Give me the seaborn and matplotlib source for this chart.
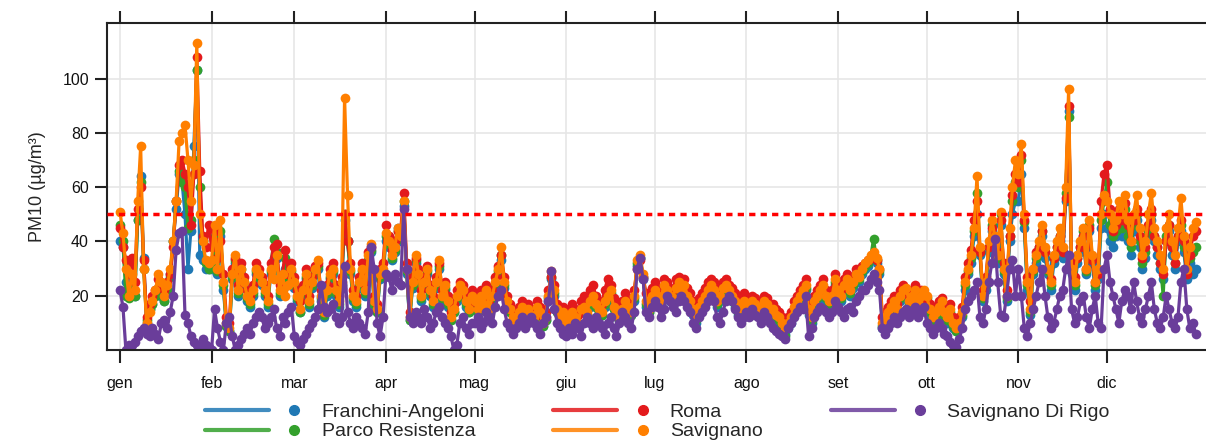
import numpy as np
import pandas as pd
import seaborn as sns
import matplotlib.pyplot as plt
from matplotlib.lines import Line2D
from matplotlib.legend_handler import HandlerBase

# PM10 giornaliero per stazione (gen-dic)
franchini = [
    40,38,25,22,25,20,48,64,34,10,15,17,20,22,20,18,22,28,40,52,65,62,50,30,44,75,103,35,33,30,30,
    30,40,28,42,22,9,7,26,32,20,28,24,18,16,20,28,26,24,20,16,28,34,34,20,26,30,24,28,
    23,18,14,20,26,16,23,28,30,18,12,20,26,28,20,16,23,48,40,28,18,16,23,28,20,32,36,16,14,26,28,
    40,38,33,36,45,40,53,28,11,23,32,26,18,23,28,20,16,23,30,18,22,16,11,14,18,22,20,16,14,18,
    16,14,18,16,20,14,18,23,28,33,23,16,14,11,9,13,15,11,14,12,11,15,13,9,11,18,26,20,14,11,13,
    9,11,13,11,9,14,15,13,16,18,16,14,13,16,18,20,15,13,11,14,16,15,13,18,31,34,26,16,14,18,
    20,18,16,22,20,18,17,21,23,20,22,18,16,13,10,14,16,18,20,22,20,16,18,21,22,20,18,16,13,14,16,
    15,14,16,15,13,14,16,15,12,13,11,10,8,6,8,10,14,16,18,20,22,13,10,16,18,20,22,18,16,18,24,
    20,18,22,24,20,23,26,25,28,30,31,33,34,32,28,8,10,12,14,16,13,18,20,21,16,18,20,16,18,20,
    18,13,10,12,14,16,12,10,13,8,7,9,12,22,28,32,42,50,35,18,22,36,44,38,32,46,28,18,40,50,55,
    55,65,45,22,13,28,32,36,42,34,28,22,32,36,40,34,55,88,28,22,32,36,42,28,44,32,22,26,45,50,
    45,40,38,42,45,42,48,40,35,44,48,38,30,34,42,48,40,35,30,26,40,44,35,30,40,44,36,26,32,28,30,
]
parco = [
    46,40,20,19,24,20,48,62,30,11,15,17,20,23,21,18,22,27,40,55,66,62,60,45,48,70,103,60,40,32,30,
    31,42,29,44,24,9,7,27,33,21,30,25,19,17,21,29,27,25,21,17,29,41,36,21,27,34,25,29,
    24,19,14,21,27,17,24,29,31,19,13,21,27,29,21,17,24,50,40,29,19,17,24,29,21,33,37,17,14,27,29,
    42,39,34,37,44,41,55,29,11,24,33,27,19,24,29,21,17,24,31,19,23,17,11,14,19,23,21,17,14,19,
    17,14,19,16,21,14,19,24,29,35,24,17,14,11,9,13,15,11,14,12,11,15,13,9,11,19,27,21,14,11,13,
    9,11,13,11,9,14,15,13,17,19,16,14,13,17,19,21,15,13,11,14,17,15,13,19,32,34,27,17,14,19,
    21,19,17,23,21,19,18,22,24,21,23,19,17,14,11,15,17,19,21,23,21,17,19,22,23,21,19,17,14,15,17,
    16,15,17,16,14,15,17,16,13,14,12,11,9,5,9,11,15,17,19,21,23,14,11,17,19,21,23,19,17,19,25,
    21,19,23,25,21,24,27,26,29,31,32,34,41,33,29,9,11,13,15,17,14,19,21,22,17,19,21,17,19,21,
    19,14,11,13,15,17,13,11,14,9,7,9,13,24,29,34,44,58,36,19,24,38,46,40,34,50,29,19,42,55,62,
    60,70,47,24,14,29,34,38,44,36,29,24,34,38,42,36,58,86,29,24,34,38,44,29,46,34,24,28,48,55,
    62,46,42,44,48,45,52,42,38,46,50,40,32,36,44,50,42,38,32,20,42,46,38,32,42,46,38,28,34,36,38,
]
roma = [
    45,38,33,28,34,25,52,60,33,12,17,20,22,26,24,22,25,28,38,55,68,70,65,60,46,65,108,66,42,38,46,
    38,44,34,40,28,12,10,30,34,24,32,27,22,20,24,32,30,27,24,20,32,38,39,24,28,37,28,32,
    27,22,18,24,30,20,27,31,32,22,16,24,30,32,24,20,27,50,40,32,22,20,27,32,24,36,38,20,17,30,32,
    46,42,37,40,44,44,58,32,14,27,34,30,22,27,31,24,20,27,32,22,25,20,14,17,22,25,24,20,17,22,
    20,17,22,19,24,17,22,27,31,35,27,20,17,14,12,16,18,14,17,15,14,18,16,12,14,22,27,24,17,14,16,
    13,15,17,15,13,18,20,18,22,24,20,18,17,22,26,24,19,17,15,18,21,19,17,22,30,33,27,21,18,23,
    25,23,21,26,25,23,22,26,27,25,26,23,21,18,15,19,21,23,25,26,25,21,23,25,26,24,23,21,18,19,21,
    19,18,20,19,17,18,20,19,16,17,15,14,12,10,12,14,18,20,22,24,26,17,14,20,22,24,26,22,20,22,28,
    24,22,26,28,24,27,30,29,31,32,33,34,35,33,30,12,14,16,18,20,17,22,24,22,20,22,24,20,22,20,
    18,17,14,16,18,19,16,14,17,12,10,12,16,27,32,37,48,55,36,22,27,38,45,40,36,48,32,22,42,57,65,
    62,72,48,27,18,30,36,38,44,36,30,26,34,38,42,36,56,90,32,27,34,38,42,30,45,33,25,28,55,65,
    68,52,44,46,52,48,54,46,40,48,52,42,34,38,46,52,42,38,32,28,40,46,38,32,42,48,40,28,35,42,44,
]
savignano = [
    51,43,30,20,28,22,55,75,30,10,14,18,22,28,25,20,24,30,40,55,77,80,83,70,55,68,113,50,40,33,32,
    33,46,30,48,25,10,8,28,35,22,30,25,20,18,22,30,28,25,22,18,30,26,35,22,28,20,24,30,
    25,20,15,22,28,18,25,30,33,20,14,22,28,30,22,18,25,93,57,30,20,18,25,30,22,35,39,18,15,28,30,
    43,40,35,38,45,42,55,30,12,25,35,28,20,25,30,22,18,25,33,20,24,18,12,15,20,24,22,18,15,20,
    18,15,20,17,22,15,20,25,30,38,25,18,15,12,10,14,16,12,15,13,12,16,14,10,12,20,29,22,15,12,14,
    10,12,14,12,10,15,16,14,18,20,17,15,14,18,20,22,16,14,12,15,18,16,14,20,33,35,28,18,15,20,
    22,20,18,24,22,20,19,23,25,22,24,20,18,15,12,16,18,20,22,24,22,18,20,23,24,22,20,18,15,16,18,
    17,16,18,17,15,16,18,17,14,15,13,12,10,8,10,12,16,18,20,22,24,15,12,18,20,22,24,20,18,20,26,
    22,20,24,26,22,25,28,27,30,32,33,35,36,34,30,10,12,14,16,18,15,20,22,23,18,20,22,18,20,22,
    20,15,12,14,16,18,14,12,15,10,8,10,14,25,30,35,45,64,38,20,25,40,48,42,35,51,30,20,45,60,70,
    65,76,50,25,15,30,35,40,46,38,30,25,35,40,45,38,60,96,30,25,35,40,45,30,48,35,25,30,50,57,
    55,50,45,48,55,50,57,48,40,50,57,45,35,40,50,58,45,40,35,30,45,50,40,35,45,56,42,30,38,45,47,
]
di_rigo = [
    22,16,0,2,2,3,5,7,8,6,5,8,6,4,10,11,8,14,20,37,43,44,13,10,5,3,2,0,4,2,1,
    0,15,8,3,0,10,12,5,0,2,4,6,8,6,10,12,14,12,8,10,12,15,8,5,12,10,14,16,
    5,3,2,4,6,8,10,12,15,24,16,14,15,17,12,10,12,31,14,10,8,12,10,8,6,14,38,30,10,5,12,
    28,27,22,28,25,24,52,30,12,10,14,12,10,15,12,8,10,14,16,12,10,8,5,0,2,10,12,8,6,10,
    10,12,8,10,14,12,10,16,20,22,15,10,8,6,8,10,12,8,10,12,10,8,6,10,12,18,29,15,10,8,6,
    5,8,6,10,8,5,10,12,10,8,12,10,8,6,10,12,8,5,10,14,12,10,8,14,30,34,26,14,12,16,
    18,16,12,15,20,18,16,14,18,20,18,16,14,10,8,12,14,16,18,20,18,12,10,14,18,20,18,15,12,10,12,
    14,12,15,13,12,10,14,12,10,8,7,6,5,4,8,10,12,14,16,15,20,5,8,12,14,16,15,14,12,14,18,
    16,14,12,15,16,14,18,20,22,22,24,26,28,25,22,8,6,8,10,12,10,12,14,15,12,14,16,12,14,16,
    10,8,6,8,10,8,6,5,3,2,1,4,8,15,18,20,22,25,12,10,15,25,32,41,25,13,12,20,30,33,20,
    30,20,8,5,10,15,20,25,30,20,12,8,10,15,20,22,30,35,15,10,12,18,20,12,8,15,20,10,8,30,
    35,25,20,15,10,18,22,20,15,25,18,12,10,15,20,25,15,10,8,12,20,15,10,8,12,25,30,15,8,10,6,
]

stazioni = ['Franchini-Angeloni', 'Parco Resistenza', 'Roma', 'Savignano', 'Savignano Di Rigo']
colori = ['#1F78B4', '#33A02C', '#E31A1C', '#FF7F00', '#6A3D9A']
mesi = ['gen', 'feb', 'mar', 'apr', 'mag', 'giu', 'lug', 'ago', 'set', 'ott', 'nov', 'dic']
inizio_mese = [0, 31, 59, 90, 120, 151, 181, 212, 243, 273, 304, 334]
limite = 50

frames = []
for nome, valori in zip(stazioni, [franchini, parco, roma, savignano, di_rigo]):
    assert len(valori) == 365, (nome, len(valori))
    frames.append(pd.DataFrame({'giorno': np.arange(365), 'pm10': valori, 'stazione': nome}))
df = pd.concat(frames, ignore_index=True)

sns.set_style('white')
plt.rcParams['font.family'] = ['Liberation Sans', 'DejaVu Sans']

fig = plt.figure(figsize=(12.06, 4.45), dpi=100)
ax = fig.add_axes([0.0887, 0.2135, 0.915, 0.735])

sns.lineplot(data=df, x='giorno', y='pm10', hue='stazione', hue_order=stazioni,
             palette=colori, marker='o', markersize=7, markeredgewidth=0,
             linewidth=2.3, estimator=None, legend=False, ax=ax)

ax.axhline(limite, color='#FF0000', lw=2.5, ls=(0, (1.8, 1.5)), zorder=5)

ax.set_xlim(-4.4, 369)
ax.set_ylim(0, 120.5)
ax.set_xticks(inizio_mese)
ax.set_xticklabels(mesi)
ax.set_yticks([20, 40, 60, 80, 100])
ax.grid(True, color='#e6e6e6', lw=1.2)
ax.set_axisbelow(True)
ax.tick_params(axis='both', direction='out', length=9, width=1.5, color='#222222',
               labelsize=11.5, labelcolor='#111111')
ax.tick_params(axis='x', bottom=True, top=True, labeltop=False, pad=10)
ax.tick_params(axis='y', left=True, pad=4)
for s in ax.spines.values():
    s.set_color('#222222')
    s.set_linewidth(1.5)
ax.set_xlabel('')
ax.set_ylabel('PM10 (µg/m³)', fontsize=13, labelpad=12)


class LineaPunto(HandlerBase):
    def create_artists(self, legend, orig, xdescent, ydescent, width, height, fontsize, trans):
        y = height / 2 - ydescent
        c = orig.get_color()
        ln = Line2D([-xdescent, -xdescent + width * 0.66], [y, y], color=c, lw=3, alpha=0.85)
        pt = Line2D([-xdescent + width * 0.92], [y], marker='o', ms=7, color=c, ls='')
        ln.set_transform(trans)
        pt.set_transform(trans)
        return [ln, pt]


handles = [Line2D([], [], color=c) for c in colori]
fig.legend(handles, stazioni, loc='center', bbox_to_anchor=(0.545, 0.052), ncol=3,
           frameon=False, fontsize=14, handlelength=5.0, handletextpad=1.0,
           columnspacing=3.5, labelspacing=0.1, handler_map={Line2D: LineaPunto()})

fig.savefig('out.png', dpi=100)
